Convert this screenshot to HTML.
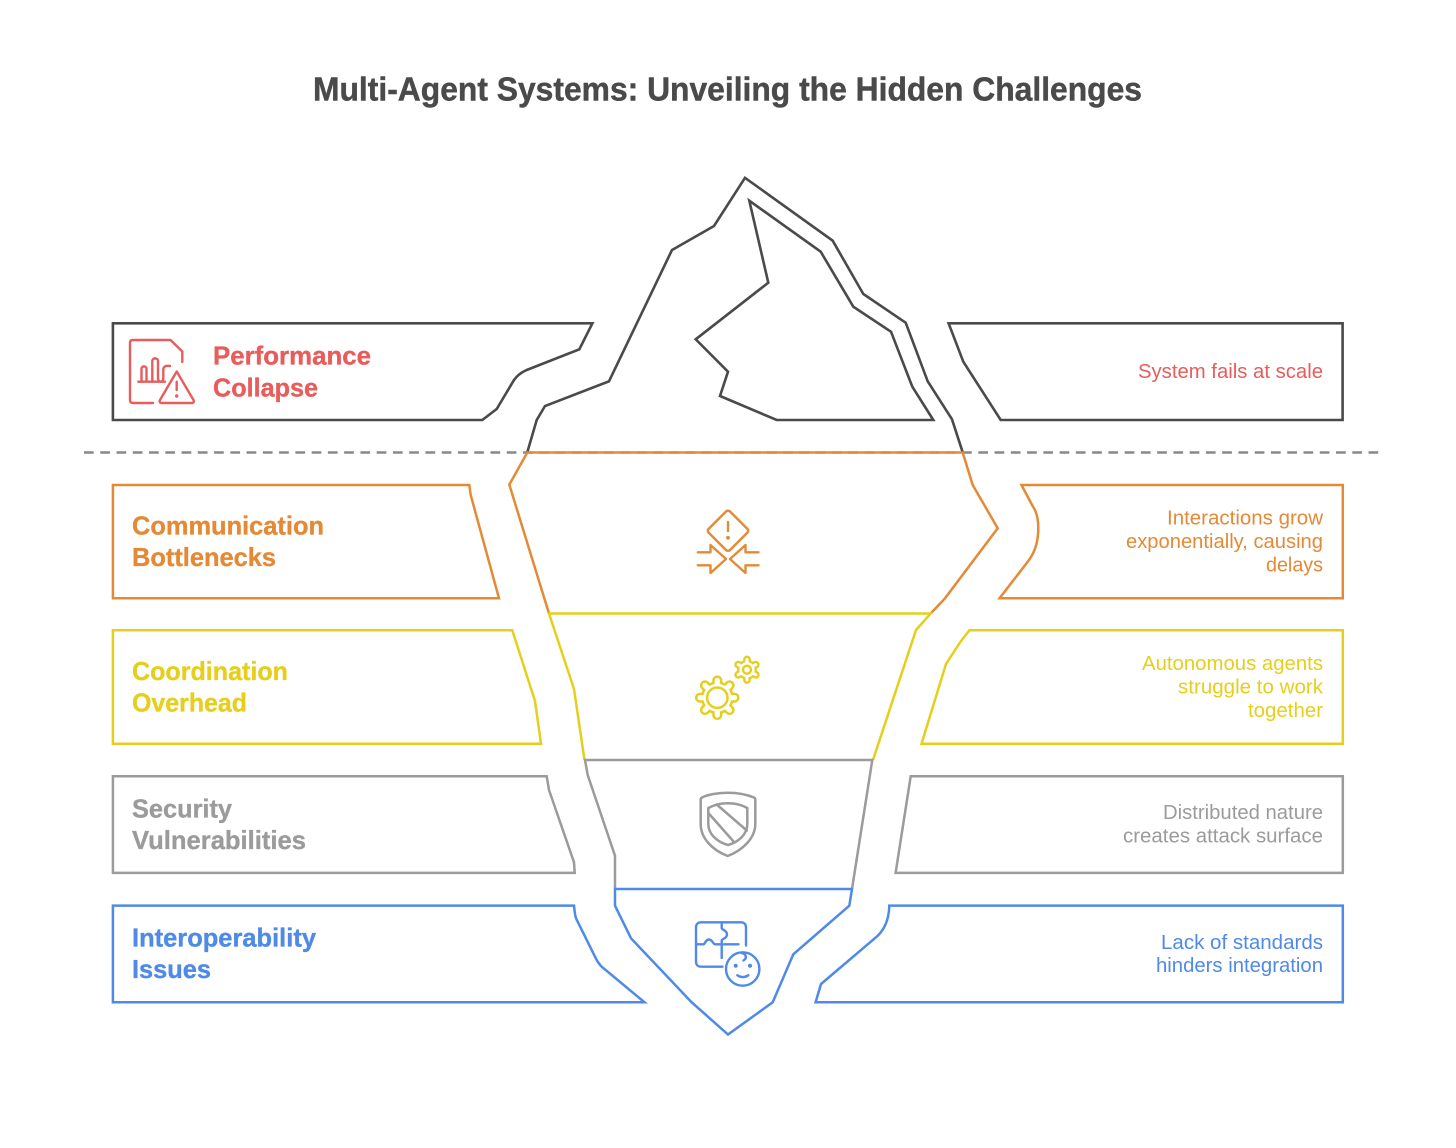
<!DOCTYPE html>
<html lang="en">
<head>
<meta charset="utf-8">
<title>Multi-Agent Systems: Unveiling the Hidden Challenges</title>
<style>
html,body{margin:0;padding:0;background:#fff;width:1456px;height:1148px;overflow:hidden}
svg{display:block}
text{font-family:"Liberation Sans",sans-serif}
.b{font-weight:700;font-size:26px;stroke-width:.35;stroke:currentColor}
.r{font-size:20px}
.s{fill:none;stroke-linejoin:miter}
</style>
</head>
<body>
<svg width="1456" height="1148" viewBox="0 0 1456 1148" xmlns="http://www.w3.org/2000/svg">
<rect width="1456" height="1148" fill="#fff"/>
<text x="313" y="100.5" font-size="33" font-weight="700" fill="#4a4a4a" stroke="#4a4a4a" stroke-width=".45" textLength="829" lengthAdjust="spacingAndGlyphs">Multi-Agent Systems: Unveiling the Hidden Challenges</text>

<line x1="84" y1="452.5" x2="1378.2" y2="452.5" stroke="#888" stroke-width="2.4" stroke-dasharray="9.7 6.56"/>

<!-- Tip -->
<g class="s" stroke="#4a4a4a" stroke-width="2.6">
<path d="M527.3 452.3L536.7 420L545 406L609 381.3L672 250L714 226L745 177.8L832.7 240.7L863.3 294L905.7 322.7L927.7 381.3L952 419.3L962.7 452.3"/>
<path d="M749.3 200.7L820.7 251.7L853.3 306.7L891 331.7L912.3 386.7L933.3 420L776.7 420L720 396L728 371.7L695.7 339.3L768.3 282.7Z"/>
<path d="M112.9 323.3H592.4L579.3 349.3L526.7 370C520 373 517 376 514 380L496.7 409L482.3 420H112.9Z"/>
<path d="M948.6 323.3H1342.6V420H1000.7L963.3 361.7Z"/>
</g>

<!-- Orange -->
<g class="s" stroke="#e48a36" stroke-width="2.5">
<path d="M930.7 613.5L945 598.3L997.7 528.3L972.7 485L962.7 452.5H527.3L509.3 484.6L549 613.5"/>
<path d="M112.9 485H469.3L470.7 495L499 598.3H112.9Z"/>
<path d="M1021.5 485H1342.8V598.3H999.5L1028.3 561C1036 551 1038.3 540 1038.3 528.3C1038.3 518 1036 511 1033 506.7Z"/>
</g>

<!-- Yellow -->
<g class="s" stroke="#e6cf1c" stroke-width="2.5">
<path d="M584.5 760L574 689L549 613.5H930.7L916 630L873 760"/>
<path d="M112.9 630.3H512.3L535 701L541 743.7H112.9Z"/>
<path d="M969.5 630.3H1342.8V743.7H921.5L946 664L961 641Z"/>
</g>

<!-- Grey -->
<g class="s" stroke="#9b9b9b" stroke-width="2.5">
<path d="M615 889V855.7L587.7 775L585 760H872.3L852 889"/>
<path d="M112.9 776.3H546.7L549 790L574 862.3L574.7 872.9H112.9Z"/>
<path d="M910.7 776.3H1342.8V872.9H895.6Z"/>
</g>

<!-- Blue -->
<g class="s" stroke="#4f8ae8" stroke-width="2.5">
<path d="M615 889H852L849.3 905.7L793.3 954.3L772.7 1002.3L728 1034.5L691.7 1002.3L631 938.3L615 905.7Z"/>
<path d="M112.9 905.6H574C574.5 911 575 915 576 918.3L595 956.7C597 961 599 964 601.7 966.7L644.5 1002.3H112.9Z"/>
<path d="M889.3 905.6H1342.8V1002.3H815.6L821 984L876.7 936.7C884 930 889 920 889.3 905.6Z"/>
</g>

<!-- Left labels -->
<g style="color:#e85c5c" fill="#e85c5c">
<text class="b" x="213" y="364.5" textLength="158" lengthAdjust="spacingAndGlyphs">Performance</text>
<text class="b" x="213" y="396.5" textLength="105" lengthAdjust="spacingAndGlyphs">Collapse</text>
</g>
<g style="color:#e48a36" fill="#e48a36">
<text class="b" x="132" y="534.5" textLength="192" lengthAdjust="spacingAndGlyphs">Communication</text>
<text class="b" x="132" y="566" textLength="144" lengthAdjust="spacingAndGlyphs">Bottlenecks</text>
</g>
<g style="color:#e6cf1c" fill="#e6cf1c">
<text class="b" x="132" y="680" textLength="156" lengthAdjust="spacingAndGlyphs">Coordination</text>
<text class="b" x="132" y="711.5" textLength="115" lengthAdjust="spacingAndGlyphs">Overhead</text>
</g>
<g style="color:#9b9b9b" fill="#9b9b9b">
<text class="b" x="132" y="817.5" textLength="100" lengthAdjust="spacingAndGlyphs">Security</text>
<text class="b" x="132" y="849" textLength="174" lengthAdjust="spacingAndGlyphs">Vulnerabilities</text>
</g>
<g style="color:#4f8ae8" fill="#4f8ae8">
<text class="b" x="132" y="946.5" textLength="184" lengthAdjust="spacingAndGlyphs">Interoperability</text>
<text class="b" x="132" y="978" textLength="79" lengthAdjust="spacingAndGlyphs">Issues</text>
</g>

<!-- Right labels -->
<text class="r" x="1138" y="378" fill="#e85c5c" textLength="185" lengthAdjust="spacingAndGlyphs">System fails at scale</text>
<text class="r" x="1167" y="524.5" fill="#e48a36" textLength="156" lengthAdjust="spacingAndGlyphs">Interactions grow</text>
<text class="r" x="1126" y="548" fill="#e48a36" textLength="197" lengthAdjust="spacingAndGlyphs">exponentially, causing</text>
<text class="r" x="1266" y="571.5" fill="#e48a36" textLength="57" lengthAdjust="spacingAndGlyphs">delays</text>
<text class="r" x="1142" y="670" fill="#e6cf1c" textLength="181" lengthAdjust="spacingAndGlyphs">Autonomous agents</text>
<text class="r" x="1178" y="693.5" fill="#e6cf1c" textLength="145" lengthAdjust="spacingAndGlyphs">struggle to work</text>
<text class="r" x="1248" y="717" fill="#e6cf1c" textLength="75" lengthAdjust="spacingAndGlyphs">together</text>
<text class="r" x="1163" y="819" fill="#9b9b9b" textLength="160" lengthAdjust="spacingAndGlyphs">Distributed nature</text>
<text class="r" x="1123" y="842.5" fill="#9b9b9b" textLength="200" lengthAdjust="spacingAndGlyphs">creates attack surface</text>
<text class="r" x="1161" y="949" fill="#4f8ae8" textLength="162" lengthAdjust="spacingAndGlyphs">Lack of standards</text>
<text class="r" x="1156" y="972" fill="#4f8ae8" textLength="167" lengthAdjust="spacingAndGlyphs">hinders integration</text>

<!-- Red icon -->
<g fill="none" stroke="#e85c5c" stroke-width="2.4" stroke-linecap="round" stroke-linejoin="round">
<path d="M182.3 362V351.5L170.5 340H133C131 340 130 341 130 343V400C130 402 131 403 133 403H153"/>
<path d="M138.3 381.7H165M141.5 381.7V369C141.5 365.5 146.5 365.5 146.5 369V381.7M152.3 381.7V361C152.3 357.5 158 357.5 158 361V378C158 383 163.3 383 163.3 378V370C163.3 366 166 365.5 170 366"/>
<path d="M176.7 371.5L193.5 400C194.3 401.5 193.5 403 192 403H161.5C160 403 159.2 401.5 160 400Z"/>
<path d="M176.7 381.7V390"/>
</g>
<circle cx="176.7" cy="396" r="1.7" fill="#e85c5c"/>

<!-- Orange icon -->
<g fill="none" stroke="#e48a36" stroke-width="2.4" stroke-linecap="round" stroke-linejoin="round">
<path d="M726 511.5C727 510.5 729 510.5 730 511.5L747.5 529C748.5 530 748.5 531.5 747.5 532.5L730 550C729 551 727 551 726 550L708.5 532.5C707.5 531.5 707.5 530 708.5 529Z"/>
<path d="M728 522V531"/>
<path d="M697.8 552.3H710.5V545L726 559L710.5 573V565.3H697.8"/>
<path d="M758.5 552.3H745.5V545L730 559L745.5 573V565.3H758.5"/>
</g>
<circle cx="728" cy="537.8" r="1.9" fill="#e48a36"/>

<!-- Yellow gears -->
<g stroke-linecap="round">
<g stroke="#e6cf1c" stroke-width="10.2">
<path d="M717.3 680.5V715M700 697.7H734.5M705 685.4L729.6 710M729.6 685.4L705 710"/>
</g>
<circle cx="717.3" cy="697.7" r="16.5" fill="#e6cf1c"/>
<g stroke="#fff" stroke-width="5.2">
<path d="M717.3 680.5V715M700 697.7H734.5M705 685.4L729.6 710M729.6 685.4L705 710"/>
</g>
<circle cx="717.3" cy="697.7" r="14" fill="#fff"/>
<circle cx="717.3" cy="697.7" r="10.2" fill="#fff" stroke="#e6cf1c" stroke-width="2.5"/>
<g stroke="#e6cf1c" stroke-width="7.8">
<path d="M747 659.5V680M738.2 664.6L755.8 674.8M755.8 664.6L738.2 674.8"/>
</g>
<circle cx="747" cy="669.7" r="10" fill="#e6cf1c"/>
<g stroke="#fff" stroke-width="3">
<path d="M747 659.5V680M738.2 664.6L755.8 674.8M755.8 664.6L738.2 674.8"/>
</g>
<circle cx="747" cy="669.7" r="7.6" fill="#fff"/>
<circle cx="747" cy="669.7" r="4" fill="#fff" stroke="#e6cf1c" stroke-width="2.4"/>
</g>

<!-- Shield -->
<g fill="none" stroke="#9b9b9b" stroke-width="2.5" stroke-linejoin="round" stroke-linecap="round">
<path d="M727.7 792.7C717 792.7 707 795 702 797.5Q700.7 798.2 700.7 800V824C700.7 838 712 850 727.7 856C743 850 755.3 838 755.3 824V800Q755.3 798.2 754 797.5C748 795 738 792.7 727.7 792.7Z"/>
<path d="M727.7 803.3C720 803.3 714 805 708.3 808V824C708.3 834 717 842 728 845C739 842 747.3 834 747.3 824V808C742 805 735 803.3 727.7 803.3Z"/>
<path d="M716.7 804.5L746.8 830.5M708.8 813.5L734 842"/>
</g>

<!-- Blue icon -->
<g fill="none" stroke="#4f8ae8" stroke-width="2.4" stroke-linecap="round" stroke-linejoin="round">
<path d="M722.5 966.7H701C698 966.7 696 964.7 696 961.7V927.3C696 924.3 698 922.3 701 922.3H741C744 922.3 746 924.3 746 927.3V945.5"/>
<path d="M721.7 922.5V928C721.7 930 727 930 727 934.5C727 939 721.7 938.5 721.7 940.5V958"/>
<path d="M696.5 944.3H703.5C705 944.3 705.5 939.5 709 939.5C712.5 939.5 713 944.3 715 944.3H738.5"/>
<circle cx="742.7" cy="969" r="16.7"/>
<path d="M737.3 975.3Q742.7 978.8 748.3 975.3"/>
<path d="M741.5 953C746 953.5 747.5 958 743.5 960.5"/>
</g>
<circle cx="735.7" cy="965.7" r="2" fill="#4f8ae8"/>
<circle cx="750" cy="965.7" r="2" fill="#4f8ae8"/>
</svg>
</body>
</html>
